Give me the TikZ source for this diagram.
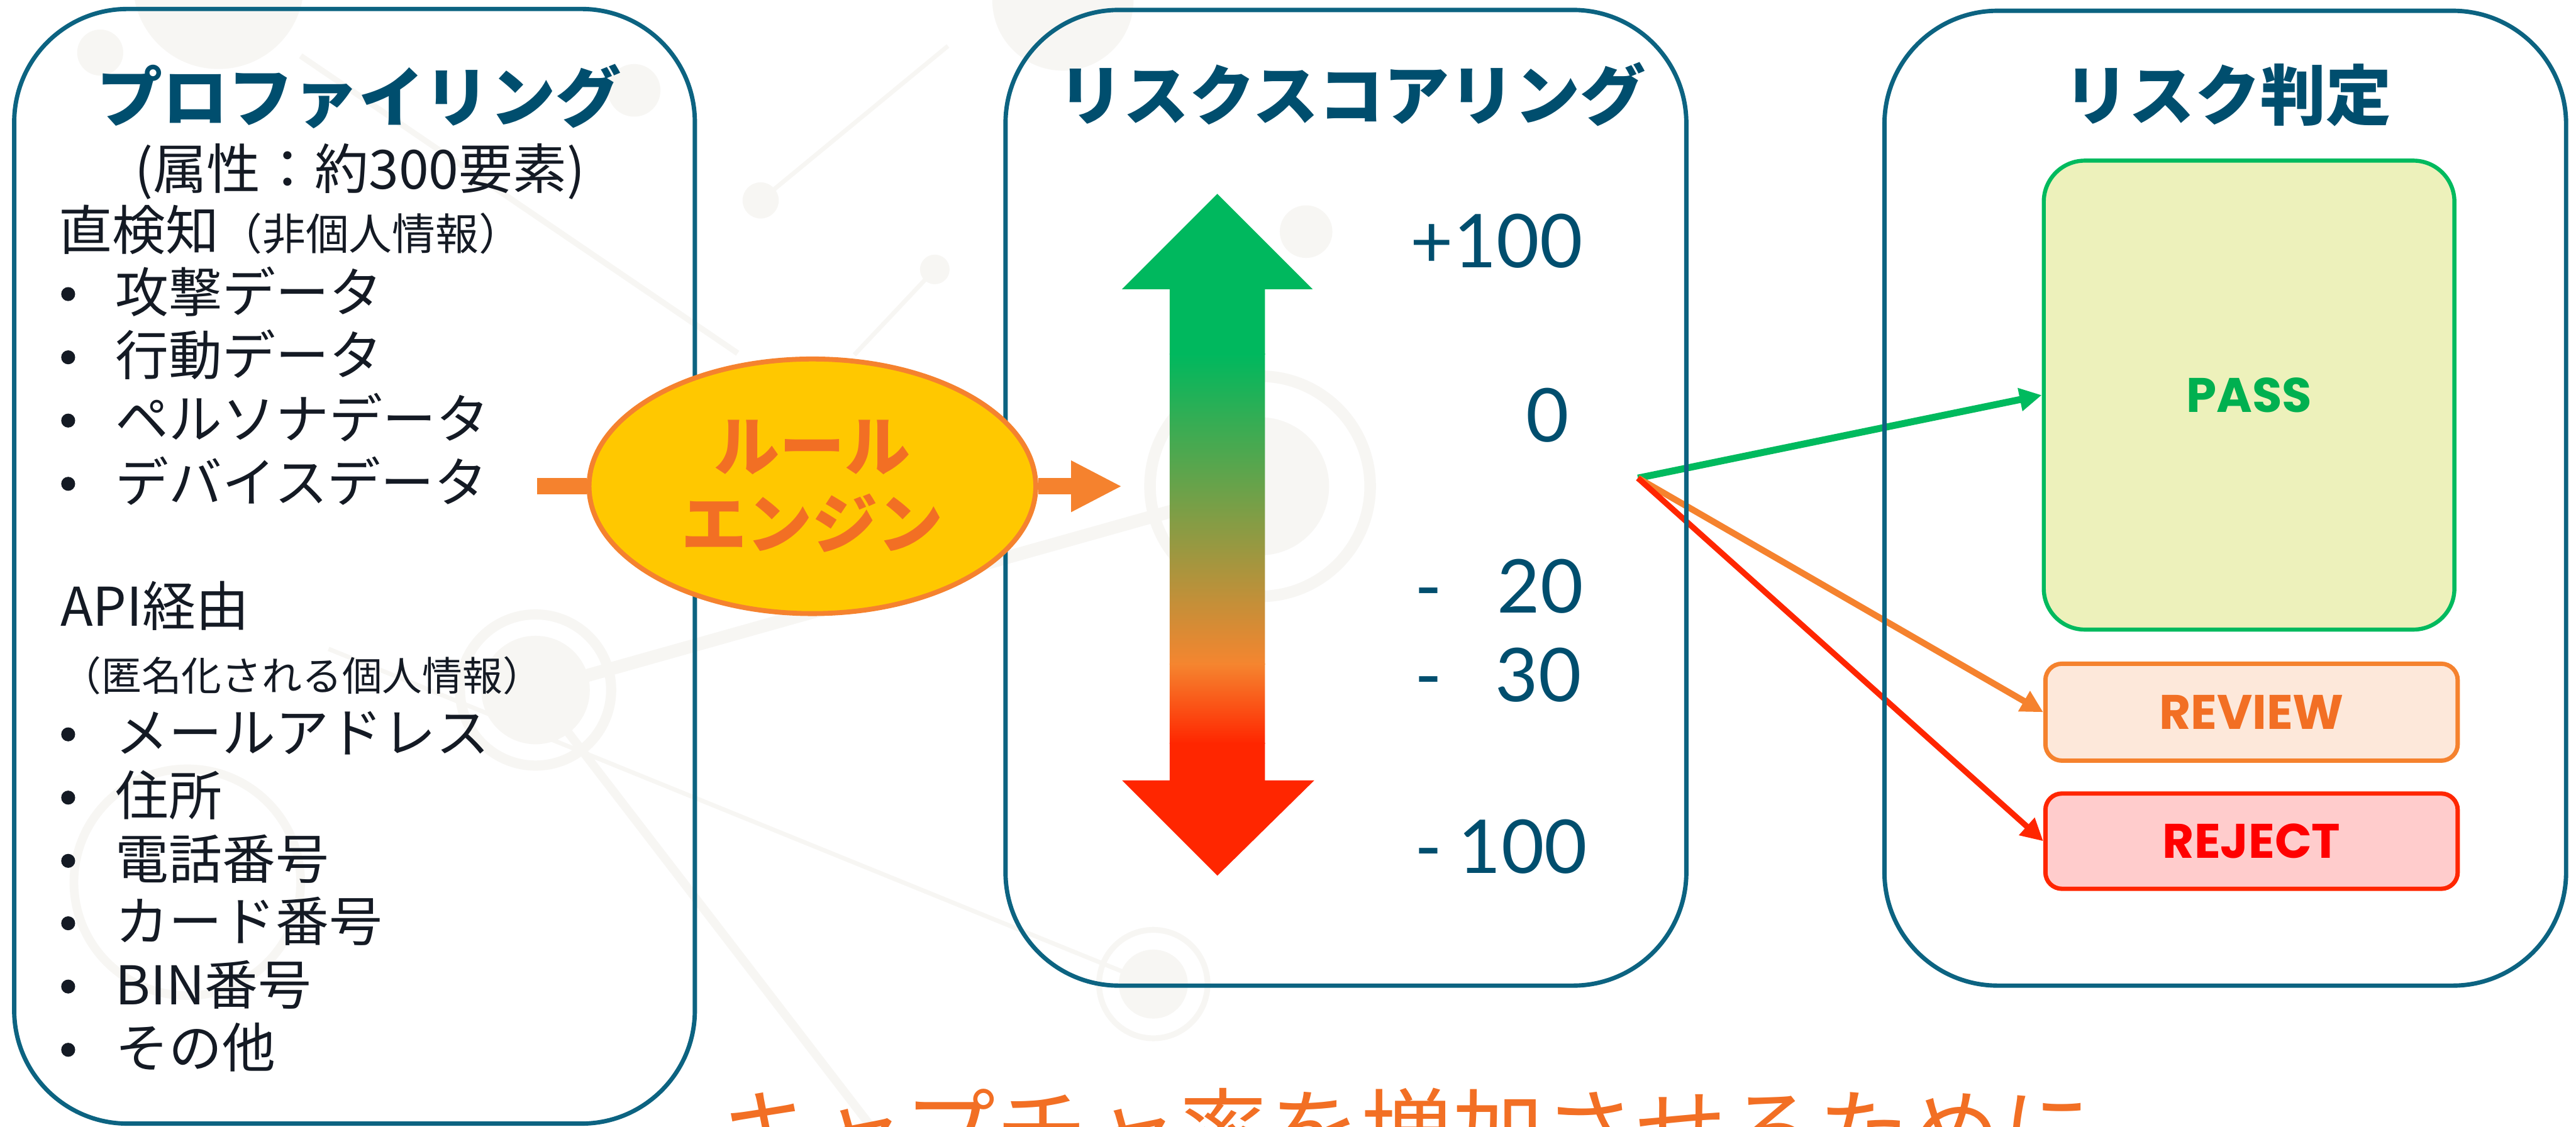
\documentclass[tikz,border=0pt]{standalone}
\usepackage{fontspec}
\setmainfont{Noto Sans CJK JP}
\newfontfamily\jp{Noto Sans CJK JP}
\newfontfamily\numf{Lato}
\newfontfamily\labf{Poppins}
\usetikzlibrary{arrows.meta,shapes.geometric}
\pgfdeclarelayer{bg}
\pgfdeclarelayer{mid}
\pgfsetlayers{bg,mid,main}
\newcommand{\myfs}[2]{\fontsize{#1pt}{#2pt}\selectfont}
\definecolor{ttl}{RGB}{0,78,110}
\definecolor{boxc}{RGB}{12,99,129}
\definecolor{txt}{RGB}{20,26,36}
\definecolor{org}{RGB}{245,130,46}
\definecolor{orgtxt}{RGB}{242,111,36}
\definecolor{gold}{RGB}{255,200,0}
\definecolor{rgreen}{RGB}{0,184,94}
\definecolor{rorange}{RGB}{245,133,47}
\definecolor{rred}{RGB}{255,38,0}
\definecolor{passfill}{RGB}{237,241,187}
\definecolor{passline}{RGB}{0,186,94}
\definecolor{passtxt}{RGB}{0,176,80}
\definecolor{revfill}{RGB}{253,232,218}
\definecolor{rejfill}{RGB}{255,204,204}
\definecolor{rejline}{RGB}{255,38,0}
\definecolor{rejtxt}{RGB}{255,0,0}
\definecolor{bgpat}{RGB}{247,246,243}
\begin{document}
\begin{tikzpicture}[x=0.02cm,y=-0.02cm,
  bigbox/.style={draw=boxc, line width=1.5pt, rounded corners=1.38cm, inner sep=0pt, rectangle},
  ttlf/.style={font=\jp\bfseries\myfs{22.7}{27}, text=ttl, inner sep=0pt, anchor=base},
  item/.style={font=\jp\myfs{18.5}{22}, text=txt, inner sep=0pt, anchor=base west},
  bul/.style={circle, fill=txt, inner sep=0pt, minimum size=0.17cm},
  num/.style={font=\numf\myfs{25.7}{30}, text=ttl, inner sep=0pt, anchor=base},
  lab/.style={font=\labf\bfseries\myfs{16.8}{20}, inner sep=0pt, rectangle},
  flow/.style={draw=org, line width=0.2cm},
  decide/.style={line width=#1, -{Triangle[length=0.27cm,width=0.27cm]}},
]
\useasboundingbox (0,0) rectangle (1568,686);

% faint background pattern
\begin{pgfonlayer}{bg}
\fill[white] (0,0) rectangle (1568,686);
\begin{scope}[bgpat]
\fill (133,-10) circle[radius=52];
\fill (61,32) circle[radius=14];
\fill (386,55) circle[radius=16];
\fill (463,122) circle[radius=11];
\fill (647,0) circle[radius=43];
\fill (795,141) circle[radius=16];
\fill (767,296) circle[radius=42];
\fill (326,420) circle[radius=33];
\fill (702,599) circle[radius=21];
\fill (569,164) circle[radius=9];
\draw[line width=4pt] (767,296) circle[radius=67];
\draw[line width=3.5pt] (326,420) circle[radius=46];
\draw[line width=3pt] (114,537) circle[radius=69];
\draw[line width=2pt] (702,599) circle[radius=33];
\draw[line width=2pt] (183,34) -- (449,215);
\draw[line width=1.5pt] (463,122) -- (577,28);
\draw[line width=1.5pt] (569,164) -- (520,216);
\draw[line width=4.5pt] (326,420) -- (767,296);
\draw[line width=1.5pt] (200,395) -- (702,599);
\draw[line width=3pt] (326,420) -- (545,705);
\end{scope}
\end{pgfonlayer}

% big frames
\node[bigbox, minimum width=8.288cm, minimum height=13.572cm] (prof) at (215.8,344.7) {};
\node[bigbox, minimum width=8.29cm, minimum height=11.88cm] (score) at (819.25,303) {};
\node[bigbox, minimum width=8.3cm, minimum height=11.87cm] (judge) at (1354.5,303.25) {};

% titles
\node[ttlf] (t1) at (218.5,74) {プロファイリング};
\node[ttlf] (t2) at (823,73) {リスクスコアリング};
\node[ttlf] (t3) at (1356,73) {リスク判定};

% left column text
\node[font=\jp\myfs{18.7}{22}, text=txt, inner sep=0pt, anchor=base] (attr) at (219,115) {(属性：約300要素)};
\node[item] (direct) at (35.5,152) {直検知{\myfs{15}{17}（非個人情報）}};
\node[bul] (b1) at (41.5,179) {};
\node[item] (i1) at (70,190) {攻撃データ};
\node[bul] (b2) at (41.5,217.5) {};
\node[item] (i2) at (70,228.5) {行動データ};
\node[bul] (b3) at (41.5,256) {};
\node[item] (i3) at (70,267) {ペルソナデータ};
\node[bul] (b4) at (41.5,294.5) {};
\node[item] (i4) at (70,305.5) {デバイスデータ};
\node[item] (api) at (36.5,381) {API経由};
\node[item, font=\jp\myfs{13.9}{16}] (anon) at (37,420.5) {（匿名化される個人情報）};
\node[bul] (b5) at (41.5,447) {};
\node[item] (i5) at (70,458) {メールアドレス};
\node[bul] (b6) at (41.5,485.5) {};
\node[item] (i6) at (70,496.5) {住所};
\node[bul] (b7) at (41.5,524) {};
\node[item] (i7) at (70,535) {電話番号};
\node[bul] (b8) at (41.5,562) {};
\node[item] (i8) at (70,573) {カード番号};
\node[bul] (b9) at (41.5,600.5) {};
\node[item] (i9) at (70,611.5) {BIN番号};
\node[bul] (b10) at (41.5,639) {};
\node[item] (i10) at (70,650) {その他};

% rule engine
\node[ellipse, draw=org, fill=gold, line width=1.7pt, minimum width=5.44cm, minimum height=3.1cm,
      inner sep=0pt, align=center, text=orgtxt, font=\jp\bfseries\myfs{22.7}{26.9}] (eng) at (494.5,296) {ルール\\エンジン};
\coordinate (fin) at (327,296);
\coordinate (fout) at (683,296);
\draw[flow] (fin) -- (eng);
\draw[flow, -{Triangle[length=0.62cm,width=0.58cm]}] (eng) -- (fout);

% gradient score arrow
\begin{scope}
\clip (741,118) -- (799,176) -- (770,176) -- (770,475) -- (800,475) -- (741,533) -- (683,475) -- (712,475) -- (712,176) -- (683,176) -- cycle;
\fill[rgreen] (680,110) rectangle (805,216);
\shade[top color=rgreen, bottom color=rorange] (680,215.5) rectangle (805,404.5);
\shade[top color=rorange, bottom color=rred] (680,404) rectangle (805,452.5);
\fill[rred] (680,452) rectangle (805,540);
\end{scope}

% score numbers
\node[num] (n1) at (911,163) {+100};
\node[num] (n2) at (942,269) {0};
\node[num] (m3) at (869.5,373) {-};
\node[num] (n3) at (937.5,373) {20};
\node[num] (m4) at (869.5,427) {-};
\node[num] (n4) at (936.5,427) {30};
\node[num] (m5) at (869.5,531.5) {-};
\node[num] (n5) at (927,531.5) {100};

% decisions
\node[lab, draw=passline, fill=passfill, text=passtxt, line width=1.4pt, rounded corners=0.5cm,
      minimum width=5.0cm, minimum height=5.71cm] (pass) at (1369,240.5) {PASS};
\node[lab, draw=org, fill=revfill, text=orgtxt, line width=1.5pt, rounded corners=0.2cm,
      minimum width=5.02cm, minimum height=1.18cm] (review) at (1370.5,433.5) {REVIEW};
\node[lab, draw=rejline, fill=rejfill, text=rejtxt, line width=1.5pt, rounded corners=0.2cm,
      minimum width=5.02cm, minimum height=1.16cm] (reject) at (1370.5,512) {REJECT};

\coordinate (rp) at (997,291);
\begin{pgfonlayer}{mid}
\draw[decide=2.4pt, draw=passline, fill=passline] (rp) -- (pass.west);
\draw[decide=2.2pt, draw=org, fill=org] (rp) -- (review.west);
\draw[decide=2pt, draw=rred, fill=rred] (rp) -- (reject.west);
\end{pgfonlayer}

% bottom caption (cut by the page edge, as in the reference)
\begin{scope}
\clip (0,0) rectangle (1568,686);
\node[font=\jp\myfs{31.7}{36}, text=orgtxt, inner sep=0pt, anchor=base] (cap) at (856.5,709) {キャプチャ率を増加させるために};
\end{scope}
\end{tikzpicture}
\end{document}
